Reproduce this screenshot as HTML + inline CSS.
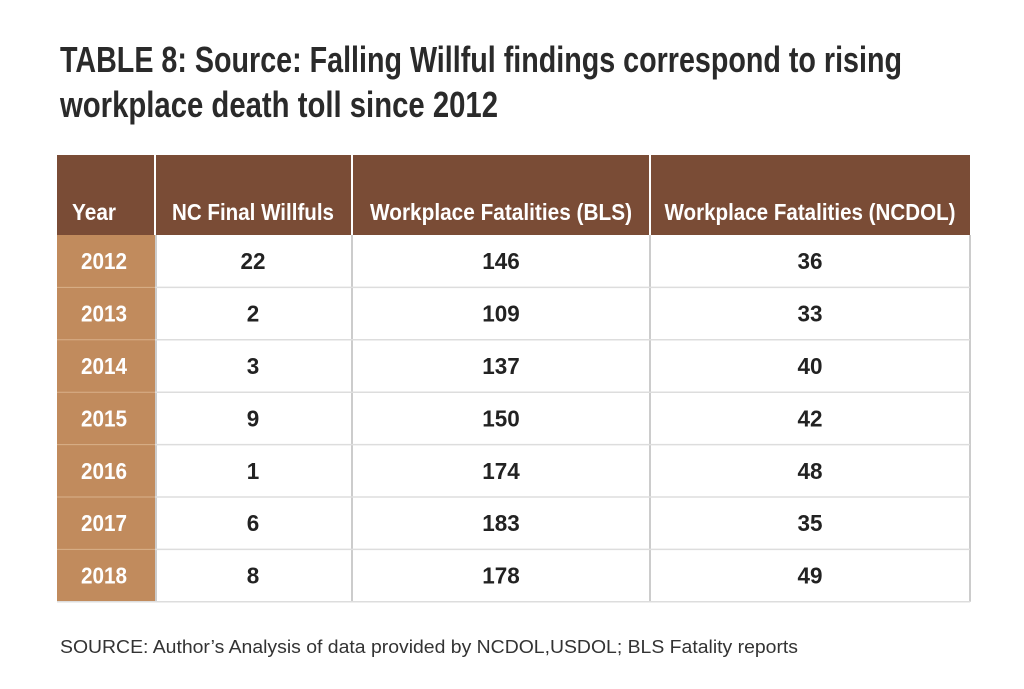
<!DOCTYPE html>
<html><head><meta charset="utf-8"><style>
html,body{margin:0;padding:0;background:#fff;}
svg{display:block;}
.t{font-family:"Liberation Sans",sans-serif;font-weight:bold;fill:#2a2a2a;}
.h{font-family:"Liberation Sans",sans-serif;font-weight:bold;fill:#fff;font-size:23px;}
.y{font-family:"Liberation Sans",sans-serif;font-weight:bold;fill:#fff;font-size:23px;}
.c{font-family:"Liberation Sans",sans-serif;font-weight:bold;fill:#222;font-size:23px;}
</style></head><body>
<svg width="1024" height="689" viewBox="0 0 1024 689">
<rect width="1024" height="689" fill="#fff"/>
<text class="t" x="60" y="72" font-size="36" textLength="842" lengthAdjust="spacingAndGlyphs">TABLE 8:  Source: Falling Willful findings correspond to rising</text>
<text class="t" x="60" y="117" font-size="36" textLength="438" lengthAdjust="spacingAndGlyphs">workplace death toll since 2012</text>
<g id="tbl"></g>
<text x="60" y="653" font-family="Liberation Sans, sans-serif" font-size="18" fill="#333" textLength="738" lengthAdjust="spacingAndGlyphs">SOURCE: Author’s Analysis of data provided by NCDOL,USDOL; BLS Fatality reports</text>
</svg>
<script>
const years=["2012","2013","2014","2015","2016","2017","2018"];
const willfuls=["22","2","3","9","1","6","8"];
const bls=["146","109","137","150","174","183","178"];
const ncdol=["36","33","40","42","48","35","49"];
const headers=["Year","NC Final Willfuls","Workplace Fatalities (BLS)","Workplace Fatalities (NCDOL)"];
const NS="http://www.w3.org/2000/svg";
const g=document.getElementById('tbl');
const cols=[57,155,352,650,970];
const top0=155,hb=235,rh=52.4;
function mk(t,a){const e=document.createElementNS(NS,t);for(const k in a)e.setAttribute(k,a[k]);g.appendChild(e);return e;}
let r=mk('rect',{x:57,y:top0,width:913,height:hb-top0,fill:'#7a4c36'});


const bot=hb+rh*years.length;
r=mk('rect',{x:57,y:hb,width:98,height:bot-hb,fill:'#c18b5d'});


// header separators
for(let i=1;i<4;i++){mk('line',{x1:cols[i],y1:top0,x2:cols[i],y2:hb,stroke:'#fff','stroke-width':2});}
// grid
for(let i=1;i<4;i++){mk('line',{x1:cols[i]+(i==1?1:0),y1:hb,x2:cols[i]+(i==1?1:0),y2:bot,stroke:'#bbb','stroke-width':1.5});}
mk('line',{x1:970,y1:hb,x2:970,y2:bot,stroke:'#bbb','stroke-width':1.5});
for(let j=1;j<=years.length;j++){const y=hb+rh*j;mk('line',{x1:j==years.length?57:155,y1:y,x2:970,y2:y,stroke:'#ddd','stroke-width':1.5});}
for(let j=1;j<years.length;j++){const y=hb+rh*j;mk('line',{x1:57,y1:y,x2:155,y2:y,stroke:'#d9b08a','stroke-width':1});}
const hx=[94,253,501,810];
const hw=[44,162,262,291];
headers.forEach((h,i)=>{const t=mk('text',{x:hx[i],y:220,'text-anchor':'middle',class:'h',textLength:hw[i],lengthAdjust:'spacingAndGlyphs'});t.textContent=h;

});
const cx=[104,253,501,810];
years.forEach((yr,j)=>{const y=hb+rh*j+rh/2+8;
[yr,willfuls[j],bls[j],ncdol[j]].forEach((v,i)=>{const t=mk('text',{x:cx[i],y:y,'text-anchor':'middle',class:i==0?'y':'c',textLength:v.length*(i==0?11.5:12.5),lengthAdjust:'spacingAndGlyphs'});t.textContent=v;

});});
</script>
</body></html>
